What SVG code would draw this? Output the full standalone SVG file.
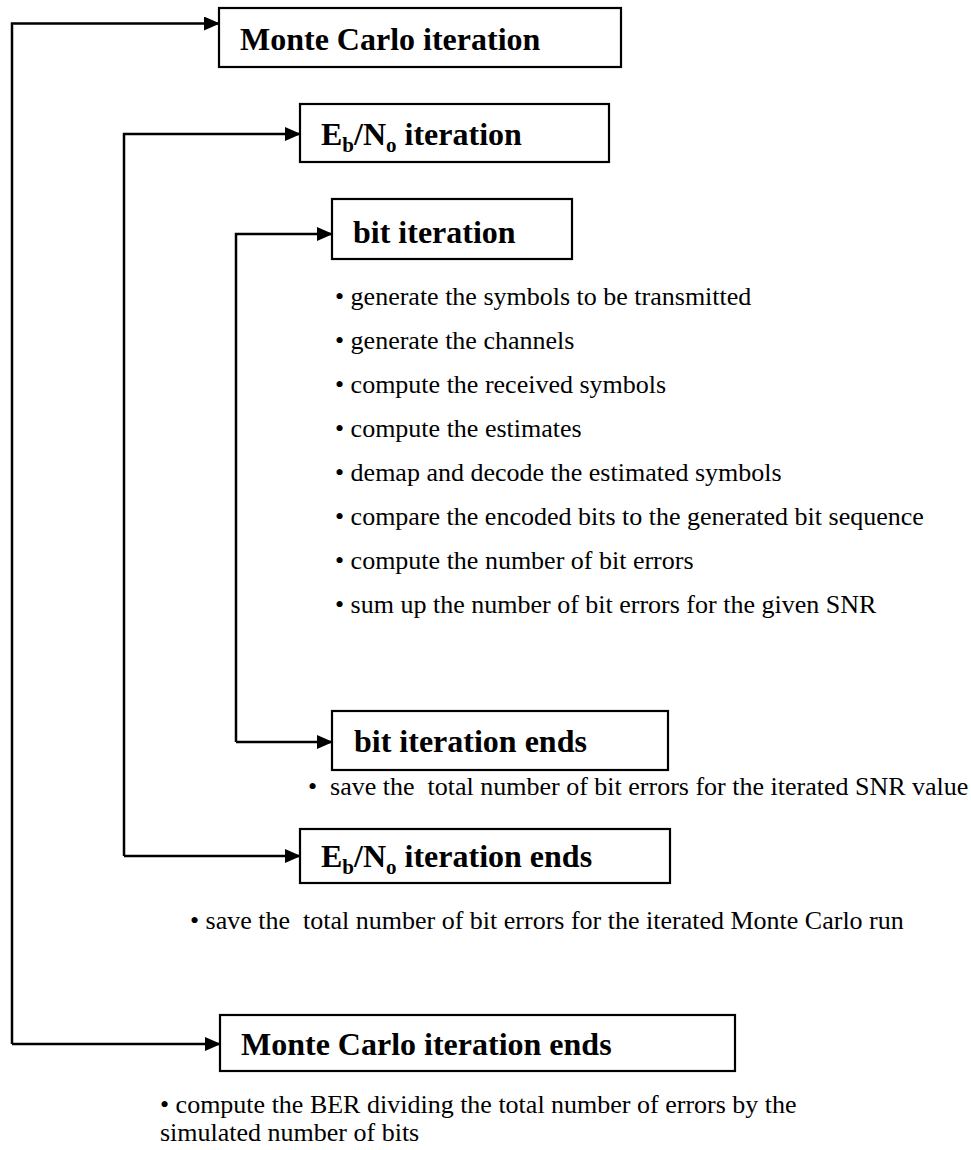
<svg xmlns="http://www.w3.org/2000/svg" width="971" height="1150" viewBox="0 0 971 1150">
<defs>
<marker id="ah" markerWidth="16" markerHeight="14" refX="15" refY="7" orient="auto" markerUnits="userSpaceOnUse">
<path d="M0,0 L16,7 L0,14 Z" fill="#000"/>
</marker>
<style>
.box{fill:#fff;stroke:#000;stroke-width:2.2}
.h{font-family:"Liberation Serif","Times New Roman",serif;font-weight:bold;font-size:32px;fill:#000}
.t{font-family:"Liberation Serif","Times New Roman",serif;font-size:26px;fill:#000}
.c{fill:none;stroke:#000;stroke-width:2.5}
</style>
</defs>
<rect width="971" height="1150" fill="#fff"/>
<g id="connectors">
<path class="c" d="M12,1044 V23.5 H219" marker-end="url(#ah)"/>
<path class="c" d="M12,1044 H220" marker-end="url(#ah)"/>
<path class="c" d="M124,856 V134 H300" marker-end="url(#ah)"/>
<path class="c" d="M124,856 H300" marker-end="url(#ah)"/>
<path class="c" d="M236,742 V234 H332" marker-end="url(#ah)"/>
<path class="c" d="M236,742 H332" marker-end="url(#ah)"/>
</g>
<g id="mc-start">
<rect class="box" x="219" y="8" width="402" height="59"/>
<text class="h" x="240" y="50">Monte Carlo iteration</text>
</g>
<g id="ebno-start">
<rect class="box" x="300" y="104" width="309" height="58"/>
<text class="h" x="321" y="145">E<tspan font-size="21" dy="7">b</tspan><tspan dy="-7">/N</tspan><tspan font-size="21" dy="7">o</tspan><tspan dy="-7"> iteration</tspan></text>
</g>
<g id="bit-start">
<rect class="box" x="332" y="199" width="240" height="60"/>
<text class="h" x="353" y="243">bit iteration</text>
</g>
<g id="bit-steps">
<text class="t" x="335" y="305">• generate the symbols to be transmitted</text>
<text class="t" x="335" y="349">• generate the channels</text>
<text class="t" x="335" y="393">• compute the received symbols</text>
<text class="t" x="335" y="437">• compute the estimates</text>
<text class="t" x="335" y="481">• demap and decode the estimated symbols</text>
<text class="t" x="335" y="525">• compare the encoded bits to the generated bit sequence</text>
<text class="t" x="335" y="569">• compute the number of bit errors</text>
<text class="t" x="335" y="613">• sum up the number of bit errors for the given SNR</text>
</g>
<g id="bit-end">
<rect class="box" x="332" y="711" width="336" height="59"/>
<text class="h" x="354" y="752">bit iteration ends</text>
</g>
<text class="t" x="308" y="795">•&#160; save the&#160; total number of bit errors for the iterated SNR value</text>
<g id="ebno-end">
<rect class="box" x="300" y="829" width="370" height="54"/>
<text class="h" x="321" y="867">E<tspan font-size="21" dy="7">b</tspan><tspan dy="-7">/N</tspan><tspan font-size="21" dy="7">o</tspan><tspan dy="-7"> iteration ends</tspan></text>
</g>
<text class="t" x="190" y="929">• save the&#160; total number of bit errors for the iterated Monte Carlo run</text>
<g id="mc-end">
<rect class="box" x="220" y="1015" width="515" height="56"/>
<text class="h" x="241" y="1055">Monte Carlo iteration ends</text>
</g>
<text class="t" x="160" y="1113">• compute the BER dividing the total number of errors by the</text>
<text class="t" x="160" y="1141">simulated number of bits</text>
</svg>
